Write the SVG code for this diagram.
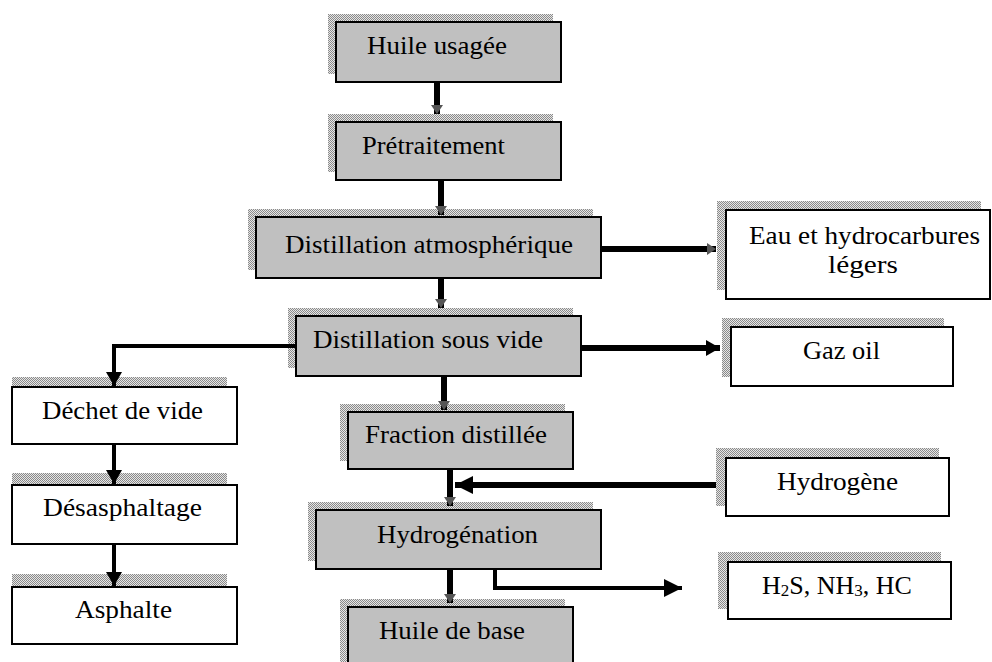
<svg xmlns="http://www.w3.org/2000/svg" width="992" height="662" viewBox="0 0 992 662">
  <style>
    .box-grey { fill: #c0c0c0; stroke: #000; stroke-width: 2; }
    .box-white { fill: #fff; stroke: #000; stroke-width: 2; }
    .shadow { fill: url(#dither); }
    .lbl { font-family: "Liberation Serif", "DejaVu Serif", "Times New Roman", serif; font-size: 26px; fill: #000; }
    .wire { fill: none; stroke: #000; stroke-linejoin: miter; }
    .w6 { stroke-width: 6; }
    .w4 { stroke-width: 4; }
  </style>
  <defs>
    <pattern id="dither" width="2" height="2" patternUnits="userSpaceOnUse">
      <rect width="2" height="2" fill="#e6e6e6"/>
      <rect width="1" height="1" fill="#8a8a8a"/>
      <rect x="1" y="1" width="1" height="1" fill="#8a8a8a"/>
    </pattern>
    <!-- small dithered tip used on the main vertical chain -->
    <marker id="tip-small" markerUnits="userSpaceOnUse" markerWidth="12" markerHeight="12" refX="9" refY="6" orient="auto">
      <path d="M0,0 L9,6 L0,12 Z" fill="#555"/>
    </marker>
    <!-- medium solid head for the side branches -->
    <marker id="tip-mid" markerUnits="userSpaceOnUse" markerWidth="16" markerHeight="18" refX="14" refY="8" orient="auto">
      <path d="M0,0 L14,8 L0,16 Z" fill="#000"/>
    </marker>
    <!-- large solid head -->
    <marker id="tip-big" markerUnits="userSpaceOnUse" markerWidth="20" markerHeight="20" refX="18" refY="9" orient="auto">
      <path d="M0,0 L18,9 L0,18 Z" fill="#000"/>
    </marker>
  </defs>

  <rect width="992" height="662" fill="#fff"/>

  <g id="n-huile-usagee">
    <rect class="shadow" x="328" y="14" width="225" height="60"/>
    <rect class="box-grey" x="336" y="22" width="225" height="60"/>
    <text class="lbl" x="367" y="54" textLength="140" lengthAdjust="spacingAndGlyphs">Huile usagée</text>
  </g>

  <g id="n-pretraitement">
    <rect class="shadow" x="328" y="114" width="225" height="58"/>
    <rect class="box-grey" x="336" y="122" width="225" height="58"/>
    <text class="lbl" x="362" y="154" textLength="143" lengthAdjust="spacingAndGlyphs">Prétraitement</text>
  </g>

  <g id="n-distillation-atm">
    <rect class="shadow" x="248" y="209" width="345" height="61"/>
    <rect class="box-grey" x="256" y="217" width="345" height="61"/>
    <text class="lbl" x="285" y="253" textLength="288" lengthAdjust="spacingAndGlyphs">Distillation atmosphérique</text>
  </g>

  <g id="n-eau-hydrocarbures">
    <rect class="shadow" x="717" y="201" width="264" height="89"/>
    <rect class="box-white" x="726" y="210" width="264" height="89"/>
    <text class="lbl" x="749" y="244" textLength="231" lengthAdjust="spacingAndGlyphs">Eau et hydrocarbures</text>
    <text class="lbl" x="828" y="273" textLength="70" lengthAdjust="spacingAndGlyphs">légers</text>
  </g>

  <g id="n-distillation-vide">
    <rect class="shadow" x="288" y="308" width="285" height="60"/>
    <rect class="box-grey" x="296" y="316" width="285" height="60"/>
    <text class="lbl" x="313" y="348" textLength="230" lengthAdjust="spacingAndGlyphs">Distillation sous vide</text>
  </g>

  <g id="n-gaz-oil">
    <rect class="shadow" x="722" y="318" width="222" height="59"/>
    <rect class="box-white" x="731" y="327" width="222" height="59"/>
    <text class="lbl" x="803" y="359" textLength="77" lengthAdjust="spacingAndGlyphs">Gaz oil</text>
  </g>

  <g id="n-fraction-distillee">
    <rect class="shadow" x="340" y="404" width="225" height="57"/>
    <rect class="box-grey" x="348" y="412" width="225" height="57"/>
    <text class="lbl" x="365" y="443" textLength="182" lengthAdjust="spacingAndGlyphs">Fraction distillée</text>
  </g>

  <g id="n-dechet-vide">
    <rect class="shadow" x="12" y="377" width="215" height="57"/>
    <rect class="box-white" x="12" y="387" width="225" height="57"/>
    <text class="lbl" x="42" y="419" textLength="161" lengthAdjust="spacingAndGlyphs">Déchet de vide</text>
  </g>

  <g id="n-hydrogene">
    <rect class="shadow" x="716" y="448" width="223" height="58"/>
    <rect class="box-white" x="726" y="458" width="223" height="58"/>
    <text class="lbl" x="777" y="490" textLength="121" lengthAdjust="spacingAndGlyphs">Hydrogène</text>
  </g>

  <g id="n-desasphaltage">
    <rect class="shadow" x="12" y="473" width="215" height="59"/>
    <rect class="box-white" x="12" y="485" width="225" height="59"/>
    <text class="lbl" x="43" y="516" textLength="159" lengthAdjust="spacingAndGlyphs">Désasphaltage</text>
  </g>

  <g id="n-hydrogenation">
    <rect class="shadow" x="308" y="502" width="285" height="59"/>
    <rect class="box-grey" x="316" y="510" width="285" height="59"/>
    <text class="lbl" x="377" y="543" textLength="161" lengthAdjust="spacingAndGlyphs">Hydrogénation</text>
  </g>

  <g id="n-h2s-nh3-hc">
    <rect class="shadow" x="718" y="552" width="223" height="57"/>
    <rect class="box-white" x="728" y="562" width="223" height="57"/>
    <text class="lbl" x="762" y="594">H<tspan font-size="17" dy="2">2</tspan><tspan dy="-2">S, NH</tspan><tspan font-size="17" dy="2">3</tspan><tspan dy="-2">, HC</tspan></text>
  </g>

  <g id="n-asphalte">
    <rect class="shadow" x="12" y="574" width="215" height="57"/>
    <rect class="box-white" x="12" y="587" width="225" height="57"/>
    <text class="lbl" x="75" y="618" textLength="97" lengthAdjust="spacingAndGlyphs">Asphalte</text>
  </g>

  <g id="n-huile-base">
    <rect class="shadow" x="340" y="599" width="225" height="70"/>
    <rect class="box-grey" x="348" y="607" width="225" height="70"/>
    <text class="lbl" x="379" y="639" textLength="146" lengthAdjust="spacingAndGlyphs">Huile de base</text>
  </g>

  <g id="connectors">
    <path class="wire w6" d="M437,82 V114" marker-end="url(#tip-small)"/>
    <path class="wire w6" d="M441,180 V215" marker-end="url(#tip-small)"/>
    <path class="wire w6" d="M601,249 H716" marker-end="url(#tip-small)"/>
    <path class="wire w6" d="M441,278 V308" marker-end="url(#tip-small)"/>
    <path class="wire w6" d="M581,348 H720" marker-end="url(#tip-mid)"/>
    <path class="wire w4" d="M296,346 H114 V386" marker-end="url(#tip-mid)"/>
    <path class="wire w6" d="M444,376 V410" marker-end="url(#tip-small)"/>
    <path class="wire w6" d="M450,469 V506" marker-end="url(#tip-small)"/>
    <path class="wire w6" d="M716,485 H455" marker-end="url(#tip-big)"/>
    <path class="wire w4" d="M114,444 V484" marker-end="url(#tip-mid)"/>
    <path class="wire w4" d="M114,544 V586" marker-end="url(#tip-mid)"/>
    <path class="wire w6" d="M450,569 V603" marker-end="url(#tip-small)"/>
    <path class="wire w4" d="M495,569 V588 H682" marker-end="url(#tip-big)"/>
  </g>
</svg>
